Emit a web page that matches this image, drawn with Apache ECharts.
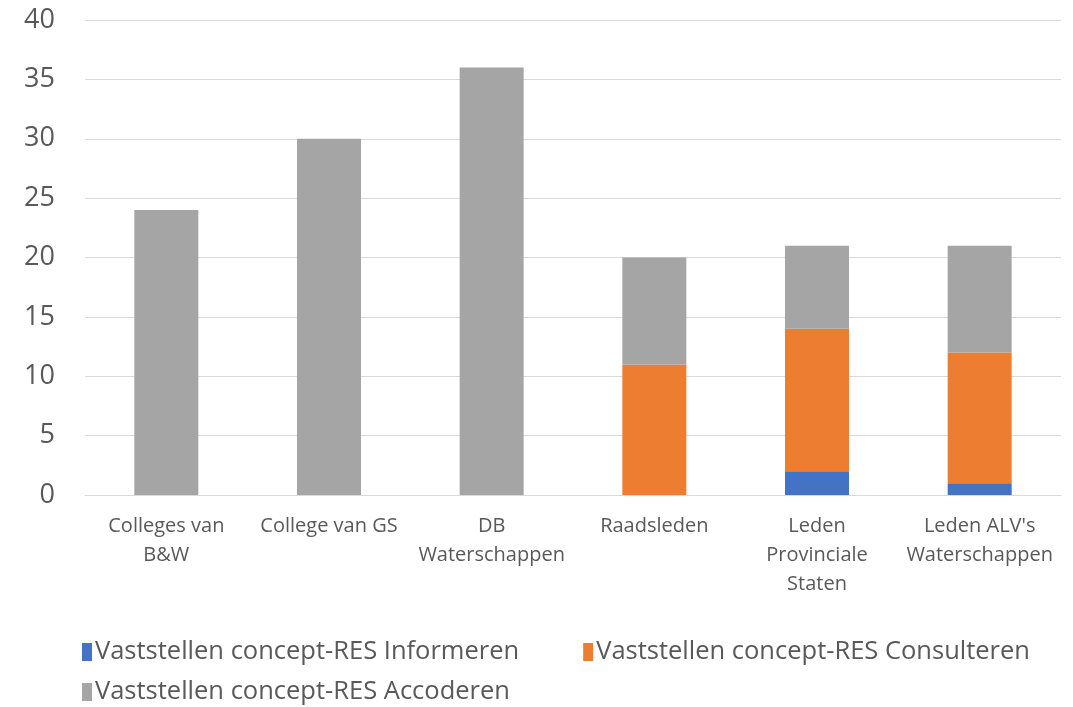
<!DOCTYPE html>
<html>
<head>
<meta charset="utf-8">
<script src="https://cdn.jsdelivr.net/npm/echarts@6/dist/echarts.min.js"></script>
<style>
  html, body { margin: 0; padding: 0; background: #fff; }
  #chart { width: 1073px; height: 707px; }
</style>
</head>
<body>
<div id="chart"></div>
<script>
// categorieën en waarden
const categories = ['Colleges van\nB&W', 'College van GS', 'DB\nWaterschappen', 'Raadsleden', 'Leden\nProvinciale\nStaten', "Leden ALV's\nWaterschappen"];
const informeren = [0, 0, 0, 0, 2, 1];
const consulteren = [0, 0, 0, 11, 12, 11];
const accoderen = [24, 30, 36, 9, 7, 9];
const seriesNames = ['Vaststellen concept-RES Informeren', 'Vaststellen concept-RES Consulteren', 'Vaststellen concept-RES Accoderen'];

const font = "'Open Sans', 'Noto Sans', sans-serif";
const textColor = '#595959';

const chart = echarts.init(document.getElementById('chart'));

const legendBase = {
  left: 77,
  itemWidth: 10,
  itemHeight: 18,
  itemGap: 64,
  icon: 'rect',
  textStyle: { fontFamily: font, fontSize: 25.5, color: textColor, padding: [0, 0, 0, -2] }
};

chart.setOption({
  animation: false,
  grid: { left: 85, right: 12, top: 20, bottom: 212 },
  legend: [
    Object.assign({}, legendBase, { top: 634, data: [seriesNames[0], seriesNames[1]] }),
    Object.assign({}, legendBase, { top: 674, data: [seriesNames[2]] })
  ],
  xAxis: {
    type: 'category',
    data: categories,
    axisLine: { lineStyle: { color: '#d9d9d9', width: 1 } },
    axisTick: { show: false },
    axisLabel: {
      fontFamily: font,
      fontSize: 20,
      color: textColor,
      lineHeight: 29,
      margin: 17,
      interval: 0
    }
  },
  yAxis: {
    type: 'value',
    min: 0,
    max: 40,
    interval: 5,
    axisLine: { show: false },
    axisTick: { show: false },
    splitLine: { lineStyle: { color: '#d9d9d9', width: 1 } },
    axisLabel: { fontFamily: font, fontSize: 27, color: textColor, margin: 30 }
  },
  series: [
    { name: seriesNames[0], type: 'bar', stack: 'res', data: informeren, barWidth: 64, itemStyle: { color: '#4472C4' } },
    { name: seriesNames[1], type: 'bar', stack: 'res', data: consulteren, barWidth: 64, itemStyle: { color: '#ED7D31' } },
    { name: seriesNames[2], type: 'bar', stack: 'res', data: accoderen, barWidth: 64, itemStyle: { color: '#A5A5A5' } }
  ]
});
</script>
</body>
</html>
